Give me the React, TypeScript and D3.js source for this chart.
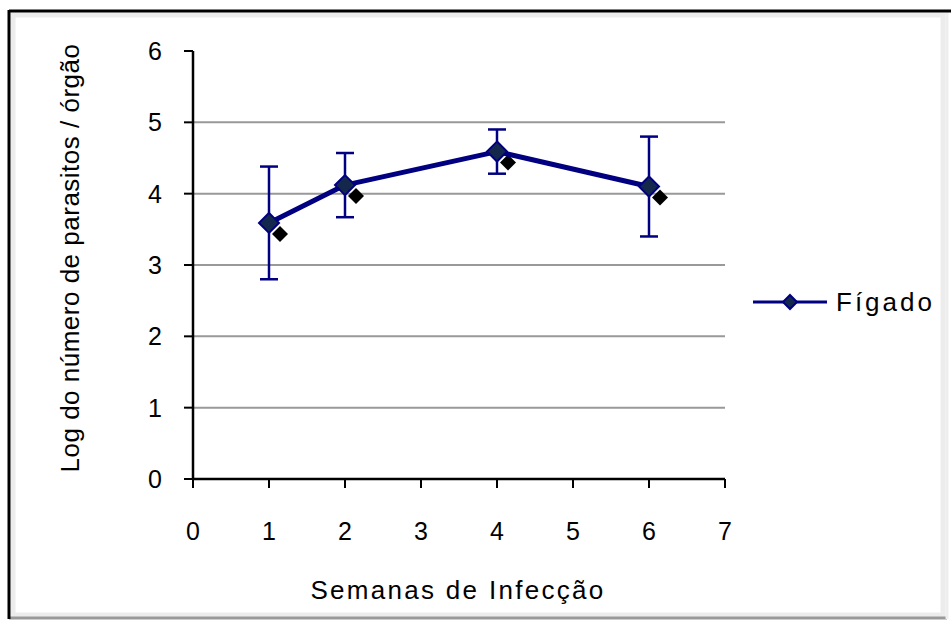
import * as d3 from "d3";
import React from "react";

// semanas de infecção
const weeks = [1, 2, 4, 6];
// log do número de parasitos / órgão (Fígado)
const means = [3.59, 4.12, 4.59, 4.1];
const errors = [0.79, 0.45, 0.31, 0.7];
const xTicks = [0, 1, 2, 3, 4, 5, 6, 7];
const yTicks = [0, 1, 2, 3, 4, 5, 6];
const seriesName = "Fígado";

const W = 951;
const H = 622;
const margin = {left: 193, right: 226, top: 51, bottom: 143};
const font = "'Liberation Sans', Arial, sans-serif";
const navy = "#000080";

export default function App() {
    const x = d3.scaleLinear().domain([0, 7]).range([margin.left, W - margin.right]);
    const y = d3.scaleLinear().domain([0, 6]).range([H - margin.bottom, margin.top]);

    const pts = weeks.map((w, i) => ({w, m: means[i], e: errors[i]}));
    const line = d3.line<{w: number; m: number}>()
        .x(d => x(d.w))
        .y(d => y(d.m));

    const diamond = (cx: number, cy: number, r: number) =>
        `M${cx},${cy - r}L${cx + r},${cy}L${cx},${cy + r}L${cx - r},${cy}Z`;

    const legY = 302;

    return (
        <svg width={W} height={H} style={{position: "absolute", left: 0, top: 0}}>
            <defs>
                <filter id="blur" x="-50%" y="-50%" width="200%" height="200%">
                    <feGaussianBlur stdDeviation="0.6"/>
                </filter>
            </defs>
            <rect x={0} y={0} width={W} height={H} fill="#fff"/>
            {/* frame */}
            <rect x={13} y={15} width={930} height={600} fill="none" stroke="#ececec" strokeWidth={5}/>
            <line x1={9} y1={618} x2={947} y2={618} stroke="#999" strokeWidth={3}/>
            <line x1={947} y1={12} x2={947} y2={619} stroke="#eee" strokeWidth={3}/>
            <line x1={9} y1={11} x2={951} y2={11} stroke="#000" strokeWidth={3}/>
            <line x1={9} y1={10} x2={9} y2={619} stroke="#000" strokeWidth={3}/>

            {/* gridlines */}
            {yTicks.filter(t => t > 0 && t < 6).map(t => (
                <line key={t} x1={x(0)} x2={x(7)} y1={y(t)} y2={y(t)} stroke="#999" strokeWidth={2}/>
            ))}

            {/* axes */}
            <line x1={x(0)} x2={x(0)} y1={y(6)} y2={y(0)} stroke="#000" strokeWidth={2.5}/>
            <line x1={x(0)} x2={x(7)} y1={y(0)} y2={y(0)} stroke="#000" strokeWidth={2.5}/>
            {yTicks.map(t => (
                <g key={t}>
                    <line x1={x(0) - 9} x2={x(0)} y1={y(t)} y2={y(t)} stroke="#000" strokeWidth={2}/>
                    <text x={162} y={y(t) + 9} textAnchor="end" fontFamily={font} fontSize={25} fill="#000">{t}</text>
                </g>
            ))}
            {xTicks.map(t => (
                <g key={t}>
                    <line x1={x(t)} x2={x(t)} y1={y(0)} y2={y(0) + 9} stroke="#000" strokeWidth={2}/>
                    <text x={x(t)} y={540} textAnchor="middle" fontFamily={font} fontSize={25} fill="#000">{t}</text>
                </g>
            ))}

            {/* axis titles */}
            <text x={458} y={599} textAnchor="middle" fontFamily={font} fontSize={26} letterSpacing={2.3} fill="#000">Semanas de Infecção</text>
            <text transform={`translate(79,${258}) rotate(-90)`} textAnchor="middle" fontFamily={font} fontSize={26} letterSpacing={0.5} fill="#000">
                Log do número de parasitos / órgão
            </text>

            {/* error bars */}
            {pts.map(p => (
                <g key={p.w} stroke={navy} strokeWidth={2.5}>
                    <line x1={x(p.w)} x2={x(p.w)} y1={y(p.m + p.e)} y2={y(p.m - p.e)}/>
                    <line x1={x(p.w) - 9} x2={x(p.w) + 9} y1={y(p.m + p.e)} y2={y(p.m + p.e)}/>
                    <line x1={x(p.w) - 9} x2={x(p.w) + 9} y1={y(p.m - p.e)} y2={y(p.m - p.e)}/>
                </g>
            ))}

            {/* shadow blobs */}
            {pts.map(p => (
                <path key={p.w} d={diamond(x(p.w) + 11, y(p.m) + 11, 8)} fill="#000" filter="url(#blur)"/>
            ))}

            {/* line */}
            <path d={line(pts) || ""} fill="none" stroke={navy} strokeWidth={5} strokeLinejoin="round"/>
            {pts.map(p => (
                <path key={p.w} d={diamond(x(p.w), y(p.m), 10)} fill="#14284b" stroke={navy} strokeWidth={2}/>
            ))}

            {/* legend */}
            <line x1={753} x2={827} y1={legY} y2={legY} stroke={navy} strokeWidth={3}/>
            <path d={diamond(790, legY, 7)} fill="#14284b" stroke={navy} strokeWidth={2}/>
            <text x={836} y={legY + 9} fontFamily={font} fontSize={26} letterSpacing={3} fill="#000">{seriesName}</text>
        </svg>
    );
}
